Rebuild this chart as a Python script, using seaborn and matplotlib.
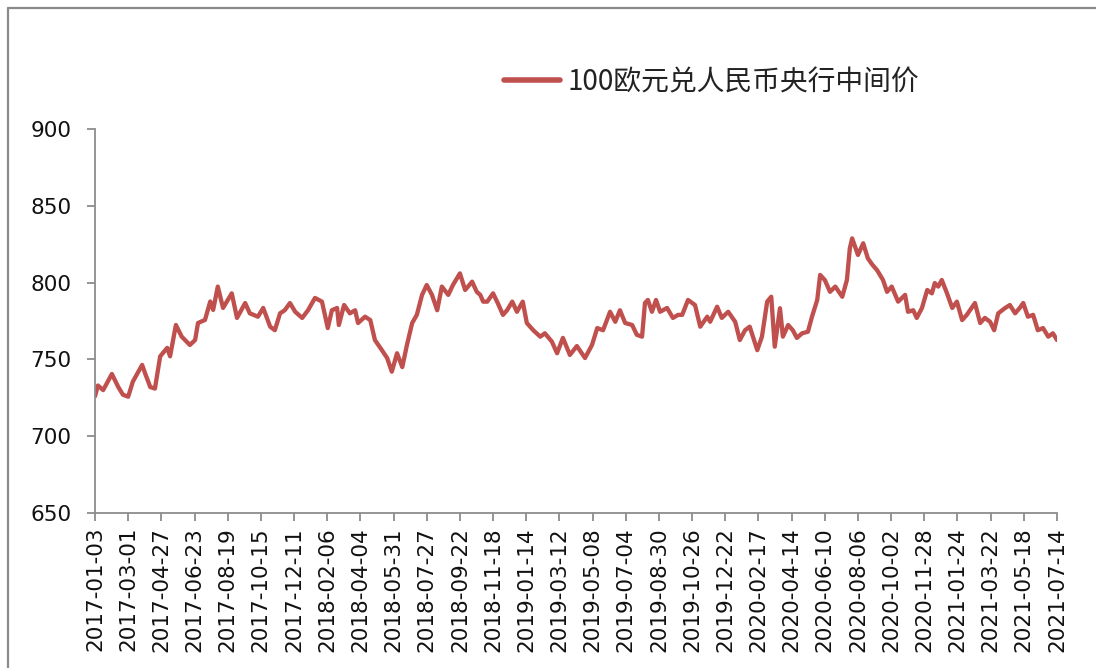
import numpy as np
import pandas as pd
import matplotlib
matplotlib.use("Agg")
import matplotlib.pyplot as plt
import matplotlib.dates as mdates
from matplotlib.lines import Line2D
import seaborn as sns

# ---- data ----
start_date = "2017-01-03"
days_since_start = [
    0, 5, 14, 29, 40, 48, 57, 65, 81, 86, 95, 103, 112, 124, 129, 139, 149, 163, 172, 177,
    189, 198, 203, 211, 220, 235, 244, 258, 266, 280, 289, 301, 309, 318, 326, 335, 344, 356,
    366, 378, 390, 400, 407, 416, 419, 428, 438, 447, 452, 464, 473, 481, 493, 502, 510, 519,
    528, 536, 545, 553, 562, 570, 579, 588, 596, 607, 615, 627, 636, 648, 656, 662, 667, 674,
    684, 692, 701, 708, 717, 725, 735, 742, 753, 765, 773, 785, 794, 804, 816, 828, 842, 854,
    863, 873, 885, 894, 902, 911, 923, 931, 940, 945, 950, 957, 964, 971, 983, 993, 1002, 1009,
    1019, 1031, 1040, 1052, 1057, 1069, 1077, 1088, 1100, 1108, 1117, 1125, 1138, 1146, 1155,
    1162, 1168, 1177, 1182, 1191, 1199, 1206, 1215, 1225, 1232, 1241, 1246, 1254, 1263, 1272,
    1284, 1292, 1297, 1301, 1311, 1320, 1328, 1335, 1344, 1354, 1361, 1369, 1380, 1392, 1397,
    1406, 1412, 1421, 1430, 1438, 1443, 1449, 1455, 1464, 1473, 1481, 1490, 1498, 1512, 1521,
    1529, 1538, 1545, 1552, 1564, 1572, 1581, 1589, 1595, 1603, 1612, 1620, 1629, 1638, 1646,
    1653,
]
rate_values = [
    726.0, 733.0, 730.0, 740.5, 732.0, 727.0, 725.7, 735.5, 746.4, 741.0, 732.0, 731.0, 752.0,
    757.5, 752.0, 772.4, 764.8, 759.4, 762.6, 773.7, 775.7, 787.7, 782.2, 797.4, 783.5, 793.0,
    777.0, 786.7, 780.0, 777.8, 783.5, 771.3, 769.0, 780.0, 782.0, 786.7, 781.0, 777.0, 782.0,
    790.0, 787.6, 770.4, 782.0, 783.5, 772.4, 785.4, 780.0, 782.0, 773.7, 777.8, 775.6, 762.6,
    756.0, 750.9, 742.0, 754.0, 745.0, 759.4, 773.7, 779.0, 792.0, 798.4, 792.0, 782.0, 797.4,
    792.0, 798.4, 806.0, 795.2, 800.6, 794.0, 792.0, 787.6, 787.6, 793.0, 786.7, 779.0, 782.0,
    787.6, 781.0, 787.6, 773.7, 769.0, 764.8, 767.0, 761.6, 754.0, 764.0, 752.9, 758.7, 750.9,
    759.4, 770.4, 769.0, 781.0, 774.5, 782.0, 773.7, 772.4, 766.0, 764.8, 786.7, 788.7, 781.0,
    788.7, 781.0, 783.5, 777.0, 779.0, 779.0, 788.7, 785.4, 771.3, 777.8, 774.5, 784.3, 777.0,
    781.0, 774.5, 762.6, 769.0, 771.3, 756.0, 764.8, 787.6, 790.8, 758.3, 783.3, 764.8, 772.4,
    769.0, 764.0, 767.0, 768.0, 777.8, 788.7, 805.0, 801.7, 794.0, 797.4, 790.8, 801.7, 822.3,
    828.8, 818.0, 825.6, 815.8, 812.0, 808.0, 801.7, 794.0, 797.4, 787.6, 792.0, 781.0, 782.0,
    777.0, 783.5, 795.2, 793.0, 799.7, 797.4, 801.7, 793.0, 783.5, 787.6, 775.6, 779.0, 786.7,
    773.7, 777.0, 774.5, 769.0, 780.0, 783.5, 785.4, 780.0, 783.5, 786.7, 777.8, 779.0, 769.0,
    770.4, 764.8, 767.0, 762.6,
]
series_name = "100欧元兑人民币央行中间价"
tick_labels = [
    "2017-01-03", "2017-03-01", "2017-04-27", "2017-06-23", "2017-08-19", "2017-10-15",
    "2017-12-11", "2018-02-06", "2018-04-04", "2018-05-31", "2018-07-27", "2018-09-22",
    "2018-11-18", "2019-01-14", "2019-03-12", "2019-05-08", "2019-07-04", "2019-08-30",
    "2019-10-26", "2019-12-22", "2020-02-17", "2020-04-14", "2020-06-10", "2020-08-06",
    "2020-10-02", "2020-11-28", "2021-01-24", "2021-03-22", "2021-05-18", "2021-07-14",
]
y_ticks = [650, 700, 750, 800, 850, 900]

# ---- build frame ----
dates = pd.Timestamp(start_date) + pd.to_timedelta(days_since_start, unit="D")
df = pd.DataFrame({"date": dates, "value": rate_values, "series": series_name})

sns.set_style("white")
plt.rcParams["font.family"] = ["DejaVu Sans"]

W, H = 1096, 668
fig = plt.figure(figsize=(W / 100, H / 100), dpi=100)
ax = fig.add_axes([95 / W, 1 - 513 / H, (1057 - 95) / W, (513 - 129) / H])

line_color = "#C0504D"
sns.lineplot(data=df, x="date", y="value", hue="series", palette=[line_color],
             linewidth=3.1, ax=ax, legend=False)

tick_dates = pd.to_datetime(tick_labels)
ax.set_xlim(tick_dates[0], tick_dates[-1])
ax.set_ylim(650, 900)
ax.set_xticks(tick_dates)
ax.set_xticklabels(tick_labels, rotation=90, fontsize=15.5, color="#111111")
ax.set_yticks(y_ticks)
ax.set_yticklabels([str(v) for v in y_ticks], fontsize=15.5, color="#111111")
ax.set_xlabel("")
ax.set_ylabel("")

axis_color = "#8C8C8C"
for side in ["top", "right"]:
    ax.spines[side].set_visible(False)
for side in ["left", "bottom"]:
    ax.spines[side].set_color(axis_color)
    ax.spines[side].set_linewidth(1.3)
ax.tick_params(axis="both", which="major", direction="out", length=6, width=1.3,
               color=axis_color, left=True, bottom=True)
ax.tick_params(axis="y", pad=11)
ax.tick_params(axis="x", pad=4)
ax.grid(False)

# legend
handle = Line2D([0], [0], color=line_color, linewidth=4)
leg = fig.legend([handle], [series_name], loc="center left",
                 bbox_to_anchor=(504 / W, 1 - 82 / H), frameon=False,
                 borderpad=0, borderaxespad=0, handlelength=2.0, handletextpad=0.3,
                 prop={"family": ["Noto Sans CJK SC", "DejaVu Sans"], "size": 20,
                       "weight": "light"})
for t in leg.get_texts():
    t.set_color("#222222")

# outer chart frame (left and top edges visible)
frame_color = "#8A8A8A"
fig.add_artist(Line2D([8 / W, 8 / W], [0, 1 - 8 / H], transform=fig.transFigure,
                      color=frame_color, linewidth=1.6))
fig.add_artist(Line2D([8 / W, 1], [1 - 8 / H, 1 - 8 / H], transform=fig.transFigure,
                      color=frame_color, linewidth=1.6))

fig.savefig("out.png", dpi=100)
